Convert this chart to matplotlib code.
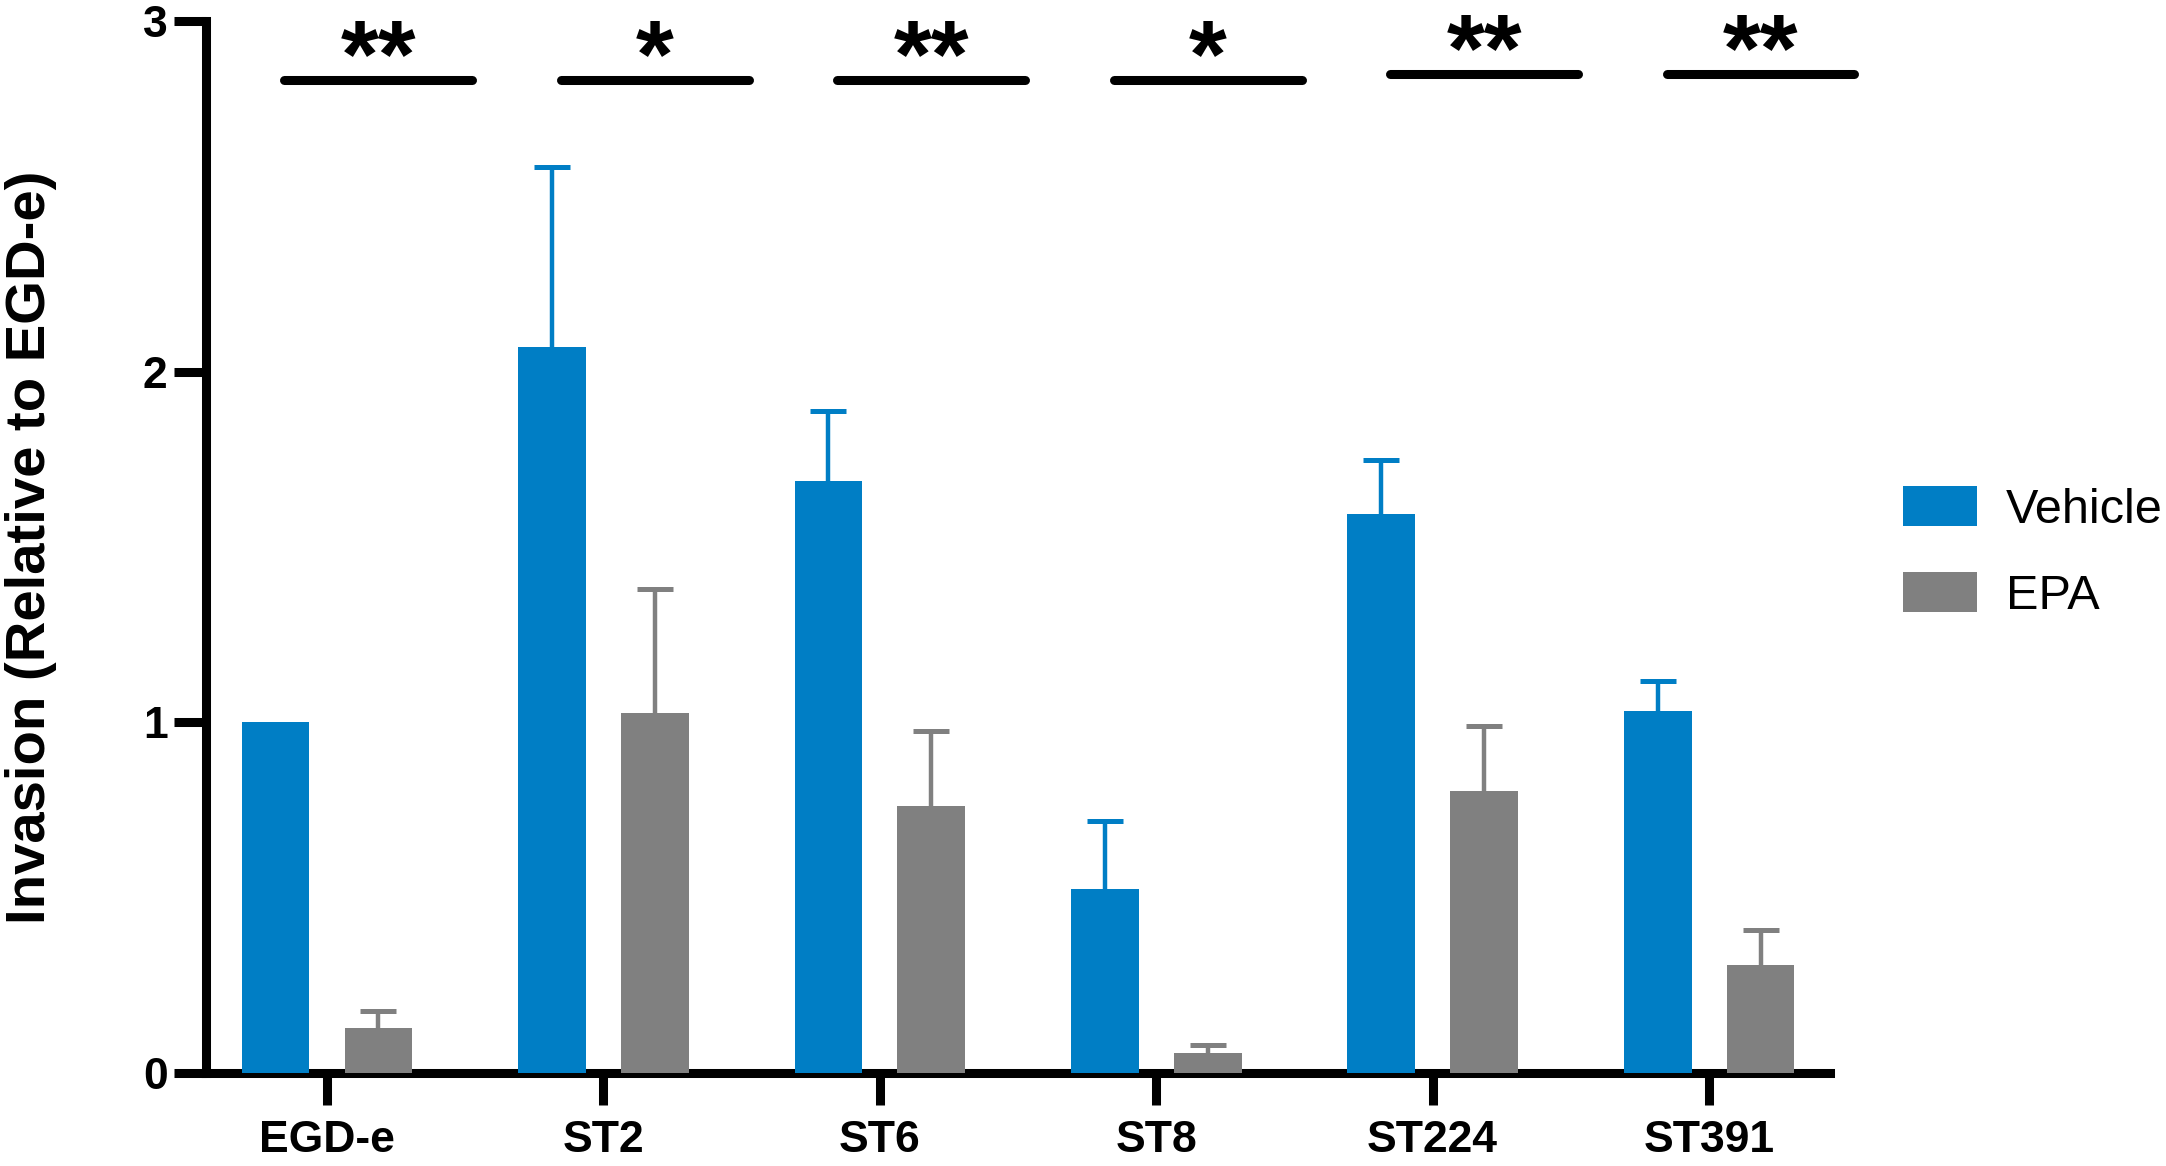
import numpy as np
import matplotlib
matplotlib.use('Agg')
import matplotlib.pyplot as plt

plt.rcParams['font.family'] = ['Liberation Sans', 'DejaVu Sans']

# valores (media y error hacia arriba)
groups = ['EGD-e', 'ST2', 'ST6', 'ST8', 'ST224', 'ST391']
vehicle = [1.00, 2.07, 1.69, 0.524, 1.595, 1.034]
vehicle_err = [0.0, 0.515, 0.199, 0.194, 0.155, 0.085]
epa = [0.128, 1.028, 0.761, 0.058, 0.804, 0.309]
epa_err = [0.048, 0.352, 0.214, 0.021, 0.185, 0.100]
sig_labels = ['**', '*', '**', '*', '**', '**']
sig_y = [2.832, 2.832, 2.832, 2.832, 2.849, 2.849]

blue = '#007EC5'
gray = '#808080'

fig = plt.figure(figsize=(21.66, 11.66), dpi=100)
ax = fig.add_axes([0.0951, 0.0798, 0.7498, 0.9018])

x = np.arange(len(groups))
off = 0.186
w = 0.245

ax.bar(x - off, vehicle, w, color=blue, linewidth=0, zorder=3, label='Vehicle')
ax.bar(x + off, epa, w, color=gray, linewidth=0, zorder=3, label='EPA')

# barras de error solo hacia arriba (se omiten las que valen 0)
for xs, vals, errs, col in [(x - off, vehicle, vehicle_err, blue), (x + off, epa, epa_err, gray)]:
    for xi, v, e in zip(xs, vals, errs):
        if e <= 0:
            continue
        eb = ax.errorbar(xi, v, yerr=[[0], [e]], fmt='none', ecolor=col,
                         elinewidth=3.2, capsize=13.3, capthick=3.6, zorder=2)
        eb[1][0].set_visible(False)  # quitamos el cap inferior

# lineas y asteriscos de significancia
for i in range(len(groups)):
    xc = x[i] + off
    ax.plot([xc - 0.34, xc + 0.34], [sig_y[i], sig_y[i]], color='black', lw=6.5,
            solid_capstyle='round', clip_on=False)
    ax.text(xc, sig_y[i] - 0.02, sig_labels[i], ha='center', va='baseline',
            fontsize=70, fontweight='bold', clip_on=False)

ax.set_xlim(-0.4376, 5.4376)
ax.set_ylim(0, 3)
ax.set_xticks(x)
ax.set_xticklabels(groups)
ax.set_yticks([0, 1, 2, 3])

for s in ['top', 'right']:
    ax.spines[s].set_visible(False)
for s in ['left', 'bottom']:
    ax.spines[s].set_linewidth(6.5)

ax.tick_params(axis='both', width=6.5, length=22.7, labelsize=32)
ax.tick_params(axis='y', pad=5)
ax.tick_params(axis='x', pad=11)
for lbl in ax.get_xticklabels() + ax.get_yticklabels():
    lbl.set_fontweight('bold')

ax.set_ylabel('Invasion (Relative to EGD-e)', fontsize=40.5, fontweight='bold')
ax.yaxis.set_label_coords(-0.092, 0.5)

ax.legend(loc='center left', bbox_to_anchor=(1.045, 0.495), frameon=False, fontsize=35,
          handlelength=1.52, handleheight=0.9, handletextpad=0.6, labelspacing=0.8,
          borderpad=0, borderaxespad=0)

fig.savefig('out.png', dpi=100)
